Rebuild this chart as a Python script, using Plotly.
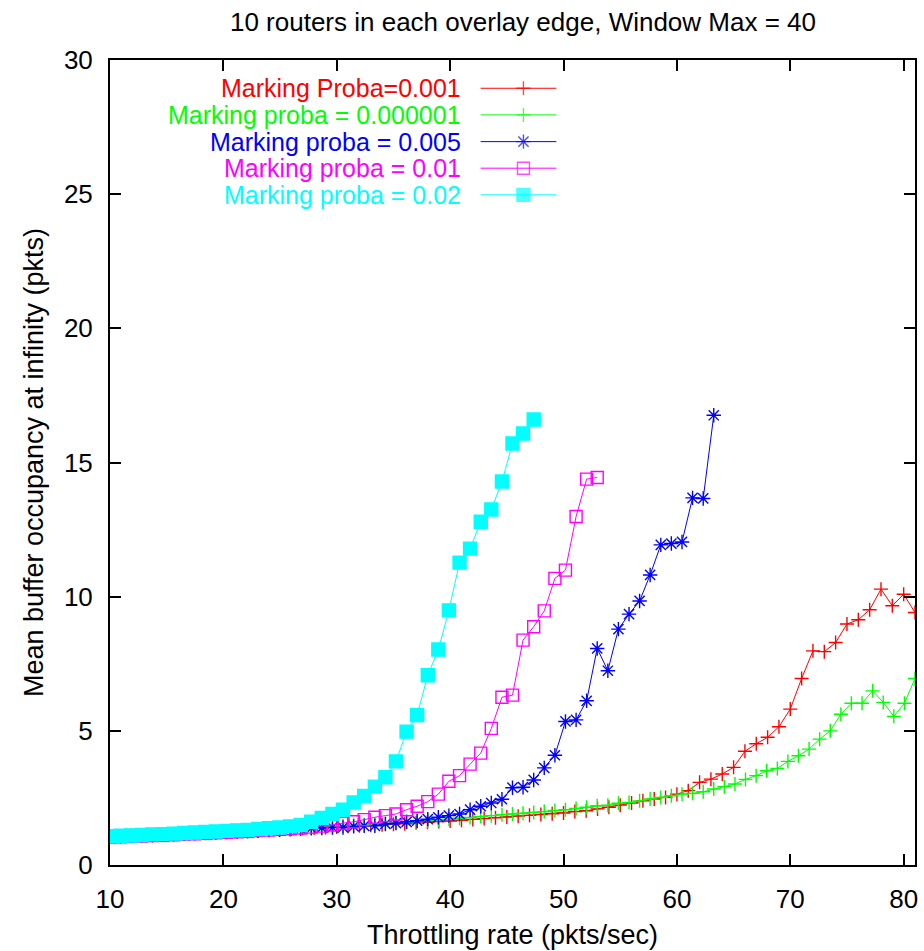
import plotly.graph_objects as go

# Throttling rates (pkts/sec): integer grid for the 0.001 run, finer grid for the others
rates_int = [10, 11, 12, 13, 14, 15, 16, 17, 18, 19, 20, 21, 22, 23, 24, 25, 26, 27, 28, 29,
             30, 31, 32, 33, 34, 35, 36, 37, 38, 39, 40, 41, 42, 43, 44, 45, 46, 47, 48, 49,
             50, 51, 52, 53, 54, 55, 56, 57, 58, 59, 60, 61, 62, 63, 64, 65, 66, 67, 68, 69,
             70, 71, 72, 73, 74, 75, 76, 77, 78, 79, 80, 81]
rates_fine = [10.00, 10.93, 11.87, 12.80, 13.74, 14.67, 15.61, 16.54, 17.47, 18.41,
              19.34, 20.28, 21.21, 22.14, 23.08, 24.01, 24.95, 25.88, 26.82, 27.75,
              28.68, 29.62, 30.55, 31.49, 32.42, 33.36, 34.29, 35.22, 36.16, 37.09,
              38.03, 38.96, 39.89, 40.83, 41.76, 42.70, 43.63, 44.57, 45.50, 46.43,
              47.37, 48.30, 49.24, 50.17, 51.11, 52.04, 52.97, 53.91, 54.84, 55.78,
              56.71, 57.64, 58.58, 59.51, 60.45, 61.38, 62.32, 63.25, 64.18, 65.12,
              66.05, 66.99, 67.92, 68.86, 69.79, 70.72, 71.66, 72.59, 73.53, 74.46,
              75.39, 76.33, 77.26, 78.20, 79.13, 80.07, 81.00]

# Mean buffer occupancy at infinity (pkts)
occ_p001 = [1.06, 1.08, 1.09, 1.11, 1.13, 1.14, 1.16, 1.18, 1.20, 1.21,
            1.23, 1.25, 1.27, 1.28, 1.30, 1.32, 1.34, 1.36, 1.38, 1.40,
            1.42, 1.44, 1.46, 1.48, 1.50, 1.52, 1.54, 1.57, 1.59, 1.62,
            1.64, 1.67, 1.70, 1.73, 1.76, 1.79, 1.82, 1.85, 1.88, 1.91,
            1.94, 1.99, 2.02, 2.09, 2.15, 2.23, 2.31, 2.39, 2.46, 2.52,
            2.64, 2.77, 3.08, 3.20, 3.39, 3.64, 4.24, 4.52, 4.76, 5.15,
            5.81, 6.95, 7.98, 7.95, 8.29, 8.98, 9.14, 9.51, 10.28, 9.66,
            10.09, 9.41]
occ_p000001 = [1.07, 1.08, 1.10, 1.11, 1.13, 1.14, 1.16, 1.17, 1.19, 1.21,
               1.22, 1.24, 1.26, 1.27, 1.29, 1.31, 1.33, 1.35, 1.37, 1.39,
               1.41, 1.43, 1.45, 1.48, 1.50, 1.52, 1.54, 1.57, 1.59, 1.62,
               1.65, 1.68, 1.71, 1.74, 1.77, 1.81, 1.84, 1.87, 1.90, 1.93,
               1.96, 1.99, 2.03, 2.06, 2.11, 2.15, 2.21, 2.23, 2.30, 2.33,
               2.39, 2.46, 2.52, 2.58, 2.64, 2.67, 2.73, 2.83, 2.92, 3.02,
               3.19, 3.33, 3.51, 3.60, 3.86, 4.07, 4.32, 4.69, 5.00, 5.62,
               6.03, 6.03, 6.49, 6.06, 5.54, 6.03, 6.95]
occ_p005 = [1.05, 1.07, 1.08, 1.10, 1.11, 1.13, 1.14, 1.16, 1.18, 1.19,
            1.21, 1.23, 1.24, 1.26, 1.28, 1.30, 1.31, 1.33, 1.35, 1.37,
            1.38, 1.40, 1.40, 1.44, 1.46, 1.46, 1.53, 1.56, 1.61, 1.65,
            1.71, 1.78, 1.84, 1.90, 2.06, 2.19, 2.31, 2.45, 2.88, 2.90,
            3.17, 3.62, 4.09, 5.35, 5.41, 6.12, 8.07, 7.24, 8.79, 9.35,
            9.84, 10.81, 11.93, 11.98, 12.04, 13.68, 13.66, 16.76]
occ_p01 = [1.04, 1.05, 1.07, 1.08, 1.10, 1.11, 1.13, 1.15, 1.16, 1.18,
           1.20, 1.22, 1.24, 1.26, 1.28, 1.30, 1.33, 1.35, 1.38, 1.41,
           1.45, 1.49, 1.56, 1.61, 1.69, 1.78, 1.84, 1.90, 2.06, 2.19,
           2.36, 2.64, 3.12, 3.33, 3.76, 4.17, 5.09, 6.25, 6.33, 8.38,
           8.88, 9.47, 10.68, 10.99, 12.99, 14.38, 14.44]
occ_p02 = [1.07, 1.09, 1.10, 1.12, 1.14, 1.15, 1.17, 1.19, 1.21, 1.23,
           1.25, 1.27, 1.29, 1.31, 1.34, 1.37, 1.40, 1.44, 1.49, 1.61,
           1.75, 1.90, 2.06, 2.33, 2.57, 2.92, 3.27, 3.86, 4.97, 5.59,
           7.07, 8.03, 9.49, 11.27, 11.79, 12.79, 13.25, 14.29, 15.71, 16.08,
           16.60]

labels = ["Marking Proba=0.001", "Marking proba = 0.000001", "Marking proba = 0.005",
          "Marking proba = 0.01", "Marking proba = 0.02"]
colors = ["#ff0000", "#00ff00", "#0000ff", "#ff00ff", "#00ffff"]
symbols = ["cross-thin", "cross-thin", "asterisk", "square-open", "square"]
msizes = [10, 10, 12, 12, 13]

series = [
    (rates_int, occ_p001),
    (rates_fine[:len(occ_p000001)], occ_p000001),
    (rates_fine[:len(occ_p005)], occ_p005),
    (rates_fine[:len(occ_p01)], occ_p01),
    (rates_fine[:len(occ_p02)], occ_p02),
]

FONT = "Liberation Sans, Arial, sans-serif"

fig = go.Figure()
for (xs, ys), lab, col, sym, ms in zip(series, labels, colors, symbols, msizes):
    fig.add_trace(go.Scatter(
        x=xs, y=ys, mode="lines+markers", name=lab, showlegend=False,
        line=dict(color=col, width=1),
        marker=dict(symbol=sym, size=ms, color=col, line=dict(color=col, width=1.4)),
    ))

# Key: right-aligned text with a line sample and a single marker on an overlay axis
key_y = [0.9649, 0.9318, 0.8986, 0.8656, 0.8325]
key_text_x = 0.4369
key_line_x = [0.4604, 0.5136, 0.5545]
for yk, lab, col, sym, ms in zip(key_y, labels, colors, symbols, msizes):
    fig.add_trace(go.Scatter(
        x=key_line_x, y=[yk, yk, yk], xaxis="x2", yaxis="y2", mode="lines+markers",
        showlegend=False, hoverinfo="skip",
        line=dict(color=col, width=1),
        marker=dict(symbol=sym, size=[0, ms, 0], color=col, line=dict(color=col, width=1.4)),
    ))
    fig.add_annotation(x=key_text_x, y=yk, xref="x2", yref="y2", text=lab,
                       showarrow=False, xanchor="right", yanchor="middle",
                       borderpad=0,
                       font=dict(family=FONT, size=25, color=col))

axis_common = dict(
    showline=True, linecolor="black", linewidth=2, mirror="ticks",
    ticks="inside", ticklen=11, tickwidth=1.5, tickcolor="black",
    showgrid=False, zeroline=False,
    tickfont=dict(family=FONT, size=26, color="black"),
)

fig.update_layout(
    width=924, height=951,
    margin=dict(l=110, r=6, t=60, b=85),
    paper_bgcolor="white", plot_bgcolor="white",
    title=dict(text="10 routers in each overlay edge, Window Max = 40",
               x=0.566, xanchor="center", y=0.977, yanchor="middle",
               font=dict(family=FONT, size=26, color="black")),
    xaxis=dict(range=[10, 81], tickvals=[10, 20, 30, 40, 50, 60, 70, 80],
               ticklabelstandoff=10,
               title=dict(text="Throttling rate (pkts/sec)", standoff=12,
                          font=dict(family=FONT, size=27, color="black")),
               **axis_common),
    yaxis=dict(range=[0, 30], tickvals=[0, 5, 10, 15, 20, 25, 30],
               ticklabelstandoff=10,
               title=dict(text="Mean buffer occupancy at infinity (pkts)", standoff=12,
                          font=dict(family=FONT, size=27, color="black")),
               **axis_common),
    xaxis2=dict(range=[0, 1], overlaying="x", visible=False, fixedrange=True),
    yaxis2=dict(range=[0, 1], overlaying="y", visible=False, fixedrange=True),
)

fig.write_html("out.html")
